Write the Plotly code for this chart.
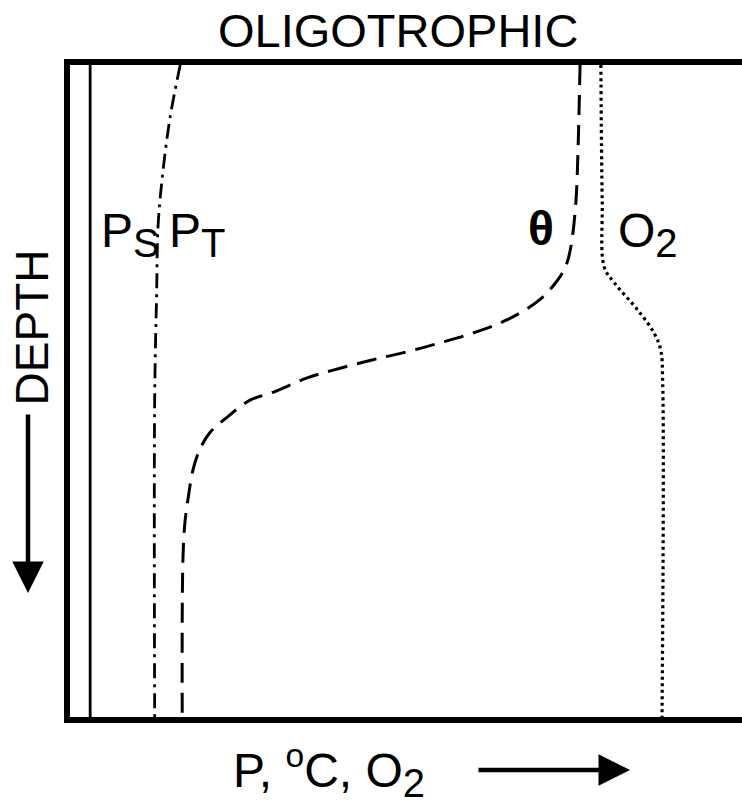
import plotly.graph_objects as go

# ---- data (x: relative P / temperature / O2 scale 0-100, y: relative depth 0-100) ----
ps_x = [3.0, 3.0]
ps_depth = [0, 100]

pt_x = [16.4, 14.9, 13.8, 13.1, 12.9, 12.6, 12.6]
pt_depth = [0, 8.0, 16.6, 24.8, 34.5, 51.4, 100]

theta_x = [75.9, 75.6, 75.3, 74.7, 74.0, 72.9, 69.9, 65.0, 60.0, 55.1, 50.1, 45.1,
           40.2, 35.3, 30.2, 26.8, 23.4, 20.8, 19.3, 18.3, 17.6, 17.1, 16.8, 16.7]
theta_depth = [0, 13.0, 20.7, 26.8, 30.2, 32.5, 36.0, 39.1, 41.1, 42.6, 44.0, 45.2,
               46.5, 48.0, 50.2, 51.4, 54.0, 56.4, 59.0, 62.1, 66.3, 70.2, 75.9, 100]

o2_x = [79.0, 79.2, 79.5, 81.0, 84.5, 86.9, 87.9, 88.2, 88.1]
o2_depth = [0, 20.7, 31.0, 33.4, 37.6, 41.1, 43.7, 48.8, 100]

labels = ["P<sub><span style='font-size:40px'>S</span></sub>",
          "P<sub><span style='font-size:40px'>T</span></sub>",
          "<b>θ</b>",
          "O<sub><span style='font-size:40px'>2</span></sub>"]
label_x = [4.3, 14.4, 67.8, 81.2]
label_depth = [26.0, 26.0, 25.0, 26.0]

title_text = "OLIGOTROPHIC"
xlabel_text = "P, <sup>o</sup>C, O<sub><span style='font-size:40px'>2</span></sub>"
ylabel_text = "DEPTH"

FONT = "Liberation Sans, Arial, sans-serif"
INK = "black"

fig = go.Figure()
fig.add_trace(go.Scatter(x=ps_x, y=ps_depth, mode="lines",
                         line=dict(color=INK, width=2.8), showlegend=False, hoverinfo="skip"))
fig.add_trace(go.Scatter(x=pt_x, y=pt_depth, mode="lines",
                         line=dict(color=INK, width=2.8, shape="spline", dash="15px,6px,3px,6px"),
                         showlegend=False, hoverinfo="skip"))
fig.add_trace(go.Scatter(x=theta_x, y=theta_depth, mode="lines",
                         line=dict(color=INK, width=3, shape="spline", dash="20px,10px"),
                         showlegend=False, hoverinfo="skip"))
fig.add_trace(go.Scatter(x=o2_x, y=o2_depth, mode="lines",
                         line=dict(color=INK, width=3.2, shape="spline", dash="3px,3.5px"),
                         showlegend=False, hoverinfo="skip"))

for t, lx, ly in zip(labels, label_x, label_depth):
    fig.add_annotation(x=lx, y=ly, text=t, showarrow=False, xanchor="left", yanchor="middle",
                       font=dict(family=FONT, size=48, color=INK))

# title
fig.add_annotation(xref="paper", yref="paper", x=0.488, y=1, yshift=6, text=title_text,
                   showarrow=False, xanchor="center", yanchor="bottom",
                   font=dict(family=FONT, size=47, color=INK))
# x label + arrow
fig.add_annotation(xref="paper", yref="paper", x=0.24, y=-0.083, text=xlabel_text,
                   showarrow=False, xanchor="left", yanchor="middle",
                   font=dict(family=FONT, size=48, color=INK))
fig.add_annotation(xref="paper", yref="paper", x=0.8333, y=-0.0813, ax=-153, ay=0,
                   text="", showarrow=True, arrowhead=2, arrowsize=1.4, arrowwidth=4.5,
                   arrowcolor=INK)
# y label + arrow
fig.add_annotation(xref="paper", yref="paper", x=-0.057, y=0.597, text=ylabel_text,
                   showarrow=False, textangle=-90, xanchor="center", yanchor="middle",
                   font=dict(family=FONT, size=46, color=INK))
fig.add_annotation(xref="paper", yref="paper", x=-0.0625, y=0.1902, ax=0, ay=-180,
                   text="", showarrow=True, arrowhead=2, arrowsize=1.4, arrowwidth=4.5,
                   arrowcolor=INK)

fig.update_xaxes(range=[0, 100], showgrid=False, zeroline=False, showticklabels=False,
                 ticks="", showline=True, linecolor=INK, linewidth=6, mirror=True)
fig.update_yaxes(range=[100, 0], showgrid=False, zeroline=False, showticklabels=False,
                 ticks="", showline=True, linecolor=INK, linewidth=6, mirror=False)

fig.update_layout(width=742, height=809, margin=dict(l=70, r=0, t=65, b=92),
                  paper_bgcolor="white", plot_bgcolor="white")

fig.write_html("out.html")
